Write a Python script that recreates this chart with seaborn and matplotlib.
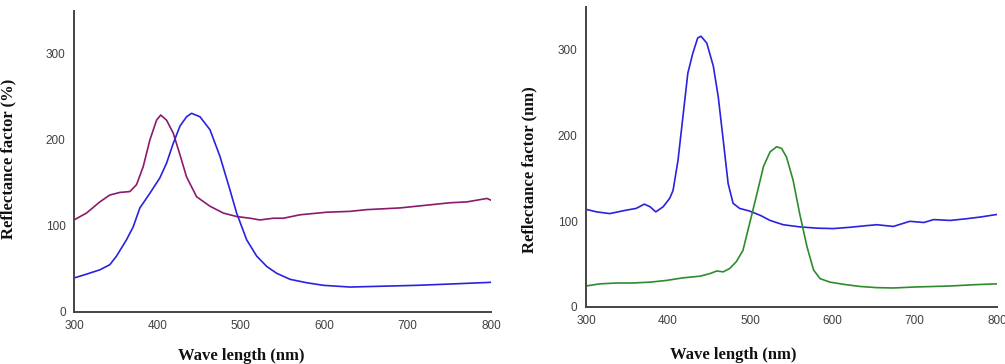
import numpy as np
import pandas as pd
import matplotlib
matplotlib.use("Agg")
import matplotlib.pyplot as plt
import seaborn as sns

# left panel
left_purple_wl = [300, 315, 331, 343, 355, 367, 375, 383, 391, 399, 404, 411, 419, 427, 435, 447,
                  463, 479, 495, 511, 523, 539, 551, 571, 603, 631, 651, 691, 731, 751, 771, 795, 800]
left_purple_r = [107, 115, 128, 136, 139, 140, 148, 169, 200, 223, 229, 223, 208, 183, 157, 134,
                 123, 115, 111, 109, 107, 109, 109, 113, 116, 117, 119, 121, 125, 127, 128, 132, 130]

left_blue_wl = [300, 315, 331, 343, 351, 363, 371, 379, 391, 403, 411, 419, 427, 435, 441, 451,
                463, 475, 487, 495, 507, 519, 531, 543, 559, 579, 599, 631, 671, 711, 751, 800]
left_blue_r = [39.5, 44, 49, 55, 65, 84, 99, 121, 138, 156, 173, 196, 216, 227, 231, 227,
               212, 181, 142, 115, 84, 65, 53, 45, 38, 34, 31, 29, 30, 31, 32.5, 34.5]

# right panel
right_blue_wl = [300, 313, 329, 349, 361, 371, 378, 385, 394, 402, 406, 412, 418, 424, 430, 436,
                 440, 447, 455, 461, 467, 473, 479, 487, 499, 512, 524, 540, 560, 581, 601, 621,
                 642, 654, 674, 694, 711, 723, 743, 763, 780, 800]
right_blue_r = [114, 111, 109, 113, 115, 120, 117, 111, 117, 127, 136, 171, 222, 273, 296, 314,
                316, 308, 281, 245, 195, 144, 121, 115, 112, 107, 101, 96, 93.5, 92, 91.5, 93,
                95, 96, 94, 100, 98.6, 102, 101, 103, 105, 108]

right_green_wl = [300, 317, 337, 357, 378, 398, 418, 439, 451, 459, 467, 475, 483, 491, 499, 508,
                  516, 524, 532, 538, 544, 552, 560, 569, 577, 585, 597, 613, 633, 654, 674, 702,
                  743, 772, 800]
right_green_r = [24.5, 27, 28, 28, 29, 31, 34, 36, 39, 42, 41, 45, 53, 66, 97, 132,
                 164, 181, 187, 185, 175, 148, 109, 70, 43, 33, 29, 26.5, 24, 22.6, 22.2, 23.4,
                 24.5, 26, 27]

sns.set_style("white")
plt.rcParams["font.family"] = ["Liberation Sans", "DejaVu Sans"]

fig = plt.figure(figsize=(10.05, 3.64), dpi=100)
ax1 = fig.add_axes([0.0736, 0.1429, 0.415, 0.827])
ax2 = fig.add_axes([0.583, 0.1566, 0.409, 0.824])

sns.lineplot(x=left_purple_wl, y=left_purple_r, ax=ax1, color="#8b1a6e", lw=1.2)
sns.lineplot(x=left_blue_wl, y=left_blue_r, ax=ax1, color="#2a22e0", lw=1.2)
sns.lineplot(x=right_blue_wl, y=right_blue_r, ax=ax2, color="#2a22e0", lw=1.2)
sns.lineplot(x=right_green_wl, y=right_green_r, ax=ax2, color="#2e8b2e", lw=1.2)

label_font = dict(family="Liberation Serif", weight="bold", size=12, color="#111111")

for ax, ylab, xl, yl in [(ax1, "Reflectance factor (%)", (0.40, -0.118), (-0.137, 0.51)),
                         (ax2, "Reflectance factor (nm)", (0.358, -0.135), (-0.119, 0.457))]:
    ax.set_xlim(300, 800)
    ax.set_ylim(0, 350)
    ax.set_xticks(np.arange(300, 801, 100))
    ax.set_xticks(np.arange(350, 800, 100), minor=True)
    ax.set_yticks(np.arange(0, 301, 100))
    ax.set_yticks(np.arange(50, 351, 100), minor=True)
    ax.tick_params(which="major", direction="out", length=4, width=1.2, color="#444444",
                   labelsize=8.5, labelcolor="#404040", pad=2)
    ax.tick_params(which="minor", direction="inout", length=4, width=1.2, color="#444444")
    for s in ["top", "right"]:
        ax.spines[s].set_visible(False)
    for s in ["left", "bottom"]:
        ax.spines[s].set_color("#444444")
        ax.spines[s].set_linewidth(1.4)
    ax.set_xlabel("Wave length (nm)", **label_font)
    ax.set_ylabel(ylab, **label_font)
    ax.xaxis.set_label_coords(*xl)
    ax.yaxis.set_label_coords(*yl)

fig.savefig("out.png", dpi=100)
